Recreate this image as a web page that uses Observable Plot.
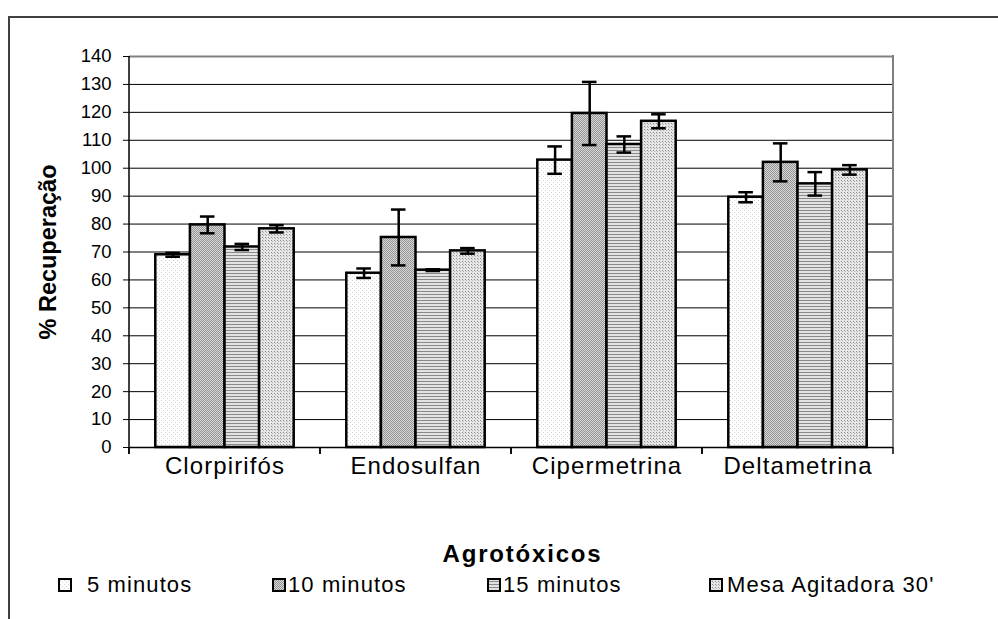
<!DOCTYPE html>
<html>
<head>
<meta charset="utf-8">
<script src="https://cdn.jsdelivr.net/npm/d3@7"></script>
<script src="https://cdn.jsdelivr.net/npm/@observablehq/plot@0.6"></script>
<style>
  html, body { margin: 0; padding: 0; background: #fff; }
  body { width: 998px; height: 619px; position: relative; overflow: hidden; font-family: "Liberation Sans", Arial, sans-serif; }
  #frame { position: absolute; left: 8px; top: 16px; width: 1000px; height: 620px; border-left: 2px solid #404040; border-top: 2px solid #404040; }
  #chart { position: absolute; left: 0; top: 0; }
  #chart svg { font-family: "Liberation Sans", Arial, sans-serif; }
  #chart g[aria-label="y-axis label"] text { font-weight: bold; font-size: 23.5px; }
  #chart g[aria-label="fx-axis label"] text { font-weight: bold; font-size: 24px; letter-spacing: 1.8px; }
  #chart g[aria-label="fx-axis tick label"] text { letter-spacing: 1.1px; }
  #legend { position: absolute; left: 0; top: 568px; width: 998px; height: 34px; }
  .item { position: absolute; top: 0; height: 34px; display: flex; align-items: center; font-size: 22px; letter-spacing: 1.1px; color: #000; white-space: nowrap; }
  .item svg { display: block; }
</style>
</head>
<body>
<svg width="0" height="0" style="position:absolute">
  <defs>
    <pattern id="p5" width="4" height="4" patternUnits="userSpaceOnUse">
      <rect width="4" height="4" fill="#ffffff"/>
      <rect x="0" y="0" width="1" height="1" fill="#d4d4d4"/>
      <rect x="2" y="2" width="1" height="1" fill="#d4d4d4"/>
    </pattern>
    <pattern id="p10" width="2" height="2" patternUnits="userSpaceOnUse">
      <rect width="2" height="2" fill="#d8d8d8"/>
      <rect x="0" y="0" width="1" height="1" fill="#949494"/>
      <rect x="1" y="1" width="1" height="1" fill="#949494"/>
    </pattern>
    <pattern id="p15" width="3" height="3" patternUnits="userSpaceOnUse">
      <rect width="3" height="3" fill="#e2e2e2"/>
      <rect x="0" y="0" width="3" height="1" fill="#8a8a8a"/>
    </pattern>
    <pattern id="pM" width="3" height="3" patternUnits="userSpaceOnUse">
      <rect width="3" height="3" fill="#e6e6e6"/>
      <rect x="0" y="0" width="1" height="1" fill="#8c8c8c"/>
      <rect x="1" y="1" width="1" height="1" fill="#b4b4b4"/>
    </pattern>
  </defs>
</svg>
<div id="frame"></div>
<div id="chart"></div>
<div id="legend"></div>
<script>
// ---- data ----
const categories = ["Clorpirifós", "Endosulfan", "Cipermetrina", "Deltametrina"];
const series = ["5 minutos", "10 minutos", "15 minutos", "Mesa Agitadora 30'"];
const values5 = [69.0, 62.4, 102.9, 89.6];
const values10 = [79.7, 75.2, 119.6, 102.1];
const values15 = [71.8, 63.5, 108.5, 94.4];
const valuesMesa = [78.3, 70.4, 116.8, 99.4];
const errors5 = [0.7, 1.7, 4.9, 1.8];
const errors10 = [3.0, 10.0, 11.3, 6.8];
const errors15 = [1.1, 0.3, 2.9, 4.2];
const errorsMesa = [1.3, 1.0, 2.5, 1.7];
const yTicks = [0, 10, 20, 30, 40, 50, 60, 70, 80, 90, 100, 110, 120, 130, 140];
const yTitle = "% Recuperação";
const xTitle = "Agrotóxicos";
const patterns = ["url(#p5)", "url(#p10)", "url(#p15)", "url(#pM)"];

const seriesValues = [values5, values10, values15, valuesMesa];
const seriesErrors = [errors5, errors10, errors15, errorsMesa];
const rows = [];
categories.forEach((cat, i) => {
  series.forEach((s, j) => {
    rows.push({cat, series: s, value: seriesValues[j][i], err: seriesErrors[j][i]});
  });
});

const W = 998, H = 568;
let facetCall = 0;

// per-facet frame decoration: boundary ticks, left axis line (first facet), right border (last facet)
function decor(index, scales, values, dims) {
  const {marginLeft: l, marginRight: mr, marginTop: t, marginBottom: mb, width: w, height: h} = dims;
  const r = w - mr, b = h - mb;
  const k = facetCall++ % categories.length;
  const g = d3.create("svg:g").attr("fill", "none");
  g.append("line").attr("x1", l).attr("x2", l).attr("y1", b).attr("y2", b + 7).attr("stroke", "black").attr("stroke-width", 1.5);
  g.append("line").attr("x1", r).attr("x2", r).attr("y1", b).attr("y2", b + 7).attr("stroke", "black").attr("stroke-width", 1.5);
  if (k === categories.length - 1) {
    g.append("line").attr("x1", r).attr("x2", r).attr("y1", t - 1).attr("y2", b).attr("stroke", "#808080").attr("stroke-width", 2);
  }
  if (k === 0) {
    g.append("line").attr("x1", l).attr("x2", l).attr("y1", t).attr("y2", b + 7).attr("stroke", "black").attr("stroke-width", 1.5);
  }
  return g.node();
}

const chart = Plot.plot({
  width: W,
  height: H,
  marginLeft: 128,
  marginRight: 105,
  marginTop: 56,
  marginBottom: H - 447,
  style: {background: "transparent", color: "black"},
  fx: {domain: categories, padding: 0, axis: null},
  x: {domain: series, paddingInner: 0, paddingOuter: 0.76, round: false, axis: null},
  y: {domain: [0, 140], axis: null},
  color: {domain: series, range: patterns},
  marks: [
    Plot.ruleY(yTicks.filter(d => d > 0 && d < 140), {stroke: "black", strokeWidth: 1}),
    Plot.ruleY([140], {stroke: "#808080", strokeWidth: 2}),
    Plot.barY(rows, {fx: "cat", x: "series", y: "value", fill: "series", stroke: "black", strokeWidth: 2.5}),
    Plot.ruleX(rows, {fx: "cat", x: "series", y1: d => d.value - d.err, y2: d => d.value + d.err, stroke: "black", strokeWidth: 2.5}),
    Plot.tickY(rows, {fx: "cat", x: "series", y: d => d.value - d.err, stroke: "black", strokeWidth: 2.5, insetLeft: 10, insetRight: 10}),
    Plot.tickY(rows, {fx: "cat", x: "series", y: d => d.value + d.err, stroke: "black", strokeWidth: 2.5, insetLeft: 10, insetRight: 10}),
    Plot.ruleY([0], {stroke: "black", strokeWidth: 1.5}),
    decor,
    Plot.axisY({ticks: yTicks, tickSize: 6, tickPadding: 12, fontSize: 18.5, tickFormat: d => String(d),
      label: yTitle, labelAnchor: "center", labelOffset: 90, labelArrow: "none"}),
    Plot.axisFx({anchor: "bottom", tickSize: 0, tickPadding: 9, fontSize: 24,
      label: xTitle, labelAnchor: "center", labelOffset: 114, labelArrow: "none"})
  ]
});
document.getElementById("chart").appendChild(chart);

// nudge the x title right, as in the original
const xl = chart.querySelector('g[aria-label="fx-axis label"]');
if (xl) {
  const wrap = document.createElementNS("http://www.w3.org/2000/svg", "g");
  wrap.setAttribute("transform", "translate(11,0)");
  xl.parentNode.insertBefore(wrap, xl);
  wrap.appendChild(xl);
}

// legend
const legendLeft = [58, 272, 487, 709];
const textGap = [29, 16, 16, 18];
const legend = document.getElementById("legend");
series.forEach((s, i) => {
  const item = document.createElement("div");
  item.className = "item";
  item.style.left = legendLeft[i] + "px";
  const sw = document.createElementNS("http://www.w3.org/2000/svg", "svg");
  sw.setAttribute("width", 14); sw.setAttribute("height", 14);
  const rect = document.createElementNS("http://www.w3.org/2000/svg", "rect");
  rect.setAttribute("x", 1); rect.setAttribute("y", 1); rect.setAttribute("width", 12); rect.setAttribute("height", 12);
  rect.setAttribute("fill", patterns[i]); rect.setAttribute("stroke", "black"); rect.setAttribute("stroke-width", 2);
  sw.appendChild(rect);
  item.appendChild(sw);
  const span = document.createElement("span");
  span.textContent = s;
  span.style.marginLeft = (textGap[i] - 14) + "px";
  item.appendChild(span);
  legend.appendChild(item);
});
</script>
</body>
</html>
